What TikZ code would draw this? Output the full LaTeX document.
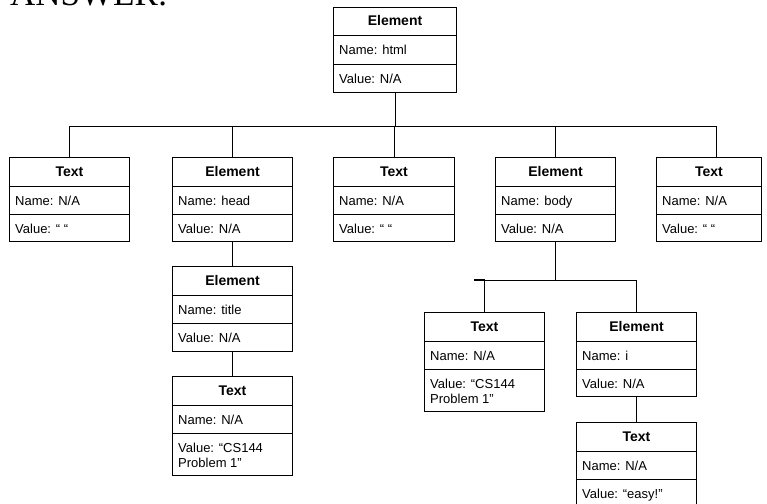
\documentclass[tikz,border=0pt]{standalone}
\usepackage{fontspec}
\setmainfont{Liberation Sans}
\newfontfamily\ansfont{Liberation Serif}
\tikzset{
  dbox/.style={draw, line width=1pt, inner sep=0pt, anchor=north west},
  ttl/.style={font=\fontsize{14}{16}\selectfont\bfseries, inner sep=0pt, anchor=base},
  fld/.style={font=\fontsize{13}{15}\selectfont, inner sep=0pt, anchor=base west},
  conn/.style={line width=0.9pt},
}
% name, x, y(top), width, title, name field, value field, total height
\newcommand\dombox[8]{%
  \node[dbox, minimum width=#4pt, minimum height=#8pt] (#1) at (#2,#3) {};
  \draw[line width=1pt] ([yshift=-29pt]#1.north west) -- ([yshift=-29pt]#1.north east);
  \draw[line width=1pt] ([yshift=-57pt]#1.north west) -- ([yshift=-57pt]#1.north east);
  \node[ttl] (#1-t) at ([yshift=-19pt]#1.north) {#5};
  \node[fld] (#1-n) at ([xshift=6pt,yshift=-48pt]#1.north west) {#6};
  \node[fld] (#1-v) at ([xshift=6pt,yshift=-76pt]#1.north west)
    {\begin{tabular}[t]{@{}l@{}}#7\end{tabular}};
}
\begin{document}
\begin{tikzpicture}[x=1pt,y=-1pt]
\useasboundingbox (0,0) rectangle (767,503);
\clip (0,0) rectangle (767,503);

\node[font=\ansfont\fontsize{35}{40}\selectfont, anchor=base west, inner sep=0pt] (ans) at (10,6) {ANSWER:};

\dombox{html}{333}{7}{123}{Element}{Name: html}{Value: N/A}{85}
\dombox{t1}{9}{157}{120}{Text}{Name: N/A}{Value: “ “}{84}
\dombox{head}{172}{157}{120}{Element}{Name: head}{Value: N/A}{84}
\dombox{t2}{333}{157}{121}{Text}{Name: N/A}{Value: “ “}{84}
\dombox{body}{495}{157}{120}{Element}{Name: body}{Value: N/A}{84}
\dombox{t3}{656}{157}{105}{Text}{Name: N/A}{Value: “ “}{84}
\dombox{title}{172}{266}{120}{Element}{Name: title}{Value: N/A}{85}
\dombox{t4}{172}{376}{120}{Text}{Name: N/A}{Value: “CS144\\Problem 1”}{99}
\dombox{t5}{424}{312}{120}{Text}{Name: N/A}{Value: “CS144\\Problem 1”}{99}
\dombox{inode}{576}{312}{120}{Element}{Name: i}{Value: N/A}{84}
\dombox{t6}{576}{422}{120}{Text}{Name: N/A}{Value: “easy!”}{85}

\coordinate (busL) at (69,126);
\coordinate (busR) at (716,126);
\draw[conn] (html.south) -- (html.south |- busL);
\draw[conn] (busL) -- (busR);
\draw[conn] (t1.north |- busL) -- (t1.north);
\draw[conn] (head.north |- busL) -- (head.north);
\draw[conn] (t2.north |- busL) -- (t2.north);
\draw[conn] (body.north |- busL) -- (body.north);
\draw[conn] (busR) |- ([xshift=15pt]t3.north);

\draw[conn] (head.south) -- (title.north);
\draw[conn] (title.south) -- (t4.north);

\draw[conn] (body.south) -- ++(0,38) coordinate (bj);
\coordinate (bl) at (bj -| t5.north);
\coordinate (br) at (bj -| inode.north);
\draw[line width=2pt] (bl) -- ++(-11,0);
\draw[conn] (bl) -- (br);
\draw[conn] (bl) -- (t5.north);
\draw[conn] (br) -- (inode.north);
\draw[conn] (inode.south) -- (t6.north);
\end{tikzpicture}
\end{document}
